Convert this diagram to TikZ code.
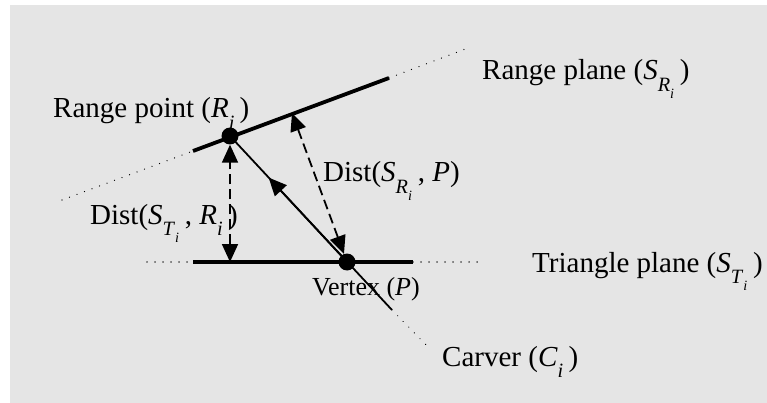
\documentclass[tikz,border=0pt]{standalone}
\usepackage{fontspec}
\setmainfont{Liberation Serif}
\usetikzlibrary{arrows.meta,calc}
\definecolor{panelgray}{RGB}{229,229,229}
\newcommand{\vi}[1]{\textit{#1}}
\newcommand{\sbs}[1]{\raisebox{-0.22em}{\textsubscript{#1}}}
\tikzset{
  plane/.style={line width=3.8pt},
  planeext/.style={line width=1.3pt,dash pattern=on 0.01pt off 8pt,line cap=round},
  carver/.style={line width=1.8pt},
  tip/.style={-{Triangle[length=18pt,width=16pt]}},
  dist/.style={line width=1.8pt,dash pattern=on 10pt off 5pt,{Triangle[length=18pt,width=16pt]}-{Triangle[length=18pt,width=16pt]}},
  dot/.style={circle,fill=black,minimum size=17pt,inner sep=0pt},
  lbl/.style={anchor=base west,inner sep=0pt,font=\fontsize{29}{32}\selectfont},
}
\begin{document}
\begin{tikzpicture}[x=1pt,y=-1pt]
\useasboundingbox (0,0) rectangle (767,403);
\fill[panelgray] (10,5) rectangle (767,403);
% range plane (S_Ri)
\coordinate (RPl) at (62,200);
\coordinate (RPa) at (193,151);
\coordinate (RPb) at (389,78);
\coordinate (RPr) at (468,48);
\coordinate (F) at (292,113);
% triangle plane (S_Ti)
\coordinate (TPl) at (147,262);
\coordinate (TPa) at (193,262);
\coordinate (TPb) at (413,262);
\coordinate (TPr) at (479,262);
\coordinate (G) at (230,262);
% carver end
\coordinate (C1) at (392,310);
\coordinate (C2) at (431,350);
\draw[planeext] (RPl) -- (RPa);
\draw[planeext] (RPb) -- (RPr);
\draw[plane] (RPa) -- (RPb);
\draw[planeext] (TPl) -- (TPa);
\draw[planeext] (TPb) -- (TPr);
\draw[plane] (TPa) -- (TPb);
% points
\node[dot] (R) at (230,136) {};
\node[dot] (P) at (347,262) {};
% carver
\draw[carver] (R.center) -- (C1);
\draw[planeext] (C1) -- (C2);
\draw[carver,tip] (P.center) -- ($(R.center)!0.33!(P.center)$);
% distances
\draw[dist] (G) -- (R);
\draw[dist] (F) -- (P);
% labels
\node[lbl] (lrp) at (53,118) {Range point (\vi{R}\sbs{\vi{i}}\,)};
\node[lbl] (lrpl) at (482,80) {Range plane (\vi{S}\sbs{\vi{R}\sbs{\vi{i}}}\,)};
\node[lbl] (ldr) at (323,182) {Dist(\vi{S}\sbs{\vi{R}\sbs{\vi{i}}}\,, \vi{P})};
\node[lbl] (ldt) at (90,224) {Dist(\vi{S}\sbs{\vi{T}\sbs{\vi{i}}}\,, \vi{R}\sbs{\vi{i}}\,)};
\node[lbl] (ltp) at (532,272) {Triangle plane (\vi{S}\sbs{\vi{T}\sbs{\vi{i}}}\,)};
\node[lbl,font=\fontsize{26}{30}\selectfont] (lv) at (312,295) {Vertex (\vi{P})};
\node[lbl] (lc) at (442,366) {Carver (\vi{C}\sbs{\vi{i}}\,)};
\end{tikzpicture}
\end{document}
